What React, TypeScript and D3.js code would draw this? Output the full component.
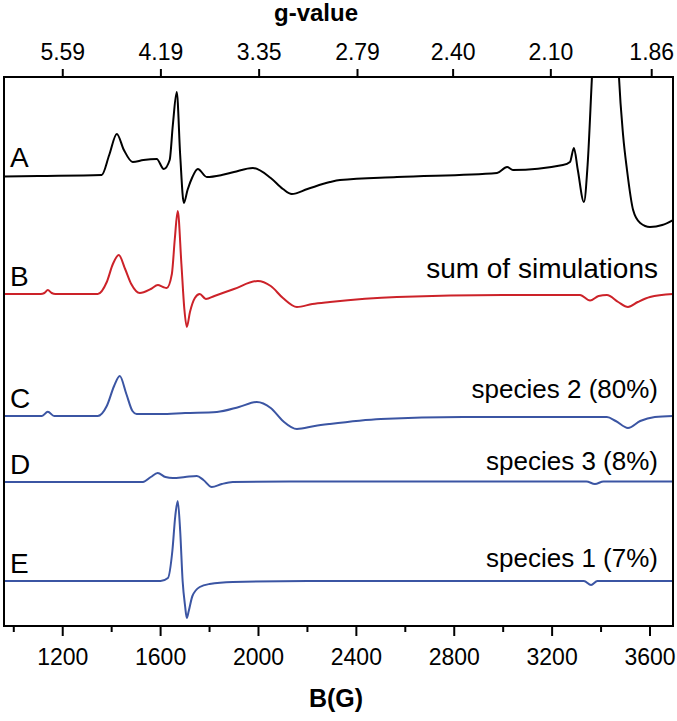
import { scaleLinear, line, curveMonotoneX } from 'd3';

// field axis ticks (G)
const fieldTicks = [1200, 1600, 2000, 2400, 2800, 3200, 3600];
const minorTicks = [1000, 1400, 1800, 2200, 2600, 3000, 3400];
// g-value ticks on top, B = hv/(muB g)
const gTicks = [5.59, 4.19, 3.35, 2.79, 2.4, 2.1, 1.86];
const hvOverMuB = 6709; // G, ~9.39 GHz

// spectra: [field (G), intensity (a.u.)]
const traceA = [
  [960, -1.5], [1100, -1], [1359, 0], [1390, 20], [1421, 41], [1450, 25], [1486, 13],
  [1530, 15], [1584, 16], [1613, 6], [1637, 15], [1650, 50], [1666, 83], [1680, 20],
  [1695, -28], [1710, -15], [1730, -2], [1752, 6], [1789, -2], [1850, 0], [1900, 3],
  [1977, 7], [2050, -3], [2100, -14], [2136, -19], [2200, -14], [2292, -7], [2333, -5],
  [2566, -2], [2975, 2], [3016, 8], [3040, 5], [3244, 10], [3273, 13], [3289, 27],
  [3305, 5], [3330, -27], [3345, 10], [3363, 99], [3380, 180], [3420, 250], [3460, 180],
  [3473, 99], [3490, 40], [3506, 5], [3531, -35], [3560, -48], [3600, -52], [3650, -50],
  [3694, -45],
];
const traceB = [
  [960, 0], [1110, 0], [1125, 1], [1139, 4], [1155, 1], [1170, 0], [1343, 0], [1380, 12],
  [1405, 30], [1429, 39], [1455, 25], [1480, 10], [1515, 1], [1560, 5], [1589, 9],
  [1610, 7], [1625, 6], [1646, 20], [1658, 55], [1670, 83], [1685, 30], [1697, -15],
  [1707, -33], [1720, -18], [1740, -4], [1760, 0], [1785, -5], [1820, -2], [1900, 5],
  [1997, 13], [2050, 8], [2100, -4], [2157, -13], [2220, -10], [2292, -8], [2566, -3],
  [3000, -1], [3314, -1], [3355, -6.6], [3390, -2], [3424, -1], [3470, -8], [3510, -13],
  [3550, -8], [3600, -3], [3694, 0],
];
const traceC = [
  [960, 0], [1115, 0], [1139, 4.3], [1165, 0], [1343, 0], [1380, 10], [1410, 30],
  [1433, 40], [1460, 22], [1485, 5], [1502, 2], [1600, 2], [1700, 3], [1830, 4],
  [1920, 9], [1993, 14], [2050, 8], [2100, -5], [2157, -13], [2230, -10], [2292, -8],
  [2500, -3], [2835, -1], [3424, -1], [3460, -5], [3510, -12], [3560, -5], [3620, -1],
  [3694, 0],
];
const traceD = [
  [960, 0], [1528, 0], [1560, 5], [1588, 9], [1620, 5], [1650, 4], [1700, 5], [1748, 6],
  [1775, 2], [1809, -5], [1850, -2], [1895, 0], [2200, 0.5], [3340, 0.5], [3375, -2],
  [3410, 0.5], [3694, 0.5],
];
const traceE = [
  [960, 0], [1600, 0], [1630, 3], [1648, 30], [1660, 65], [1670, 80], [1680, 50],
  [1690, 0], [1700, -25], [1707, -37], [1715, -30], [1730, -15], [1760, -6], [1800, -3],
  [1895, -1], [2200, 0], [3330, 0], [3359, -4], [3385, 0], [3694, 0],
];

const letters = ['A', 'B', 'C', 'D', 'E'];
const notes = ['', 'sum of simulations', 'species 2 (80%)', 'species 3 (8%)', 'species 1 (7%)'];
const offsets = [451, 332, 210, 144, 45];
const colors = ['#000000', '#cc2229', '#3b55a3', '#3b55a3', '#3b55a3'];
const traces = [traceA, traceB, traceC, traceD, traceE];

export default function App() {
  const width = 677;
  const height = 721;
  const left = 4, right = 673, top = 77, bottom = 626;
  const font = 'Liberation Sans, Arial, sans-serif';
  const noteGap = [0, 16, 18, 12, 14];

  const x = scaleLinear().domain([960, 3694]).range([left, right]);
  const y = scaleLinear().domain([0, bottom - top]).range([bottom, top]);

  return (
    <svg width={width} height={height} style={{ position: 'absolute', left: 0, top: 0, background: '#fff' }}>
      <defs>
        <clipPath id="plot">
          <rect x={left} y={top} width={right - left} height={bottom - top} />
        </clipPath>
      </defs>
      <rect width={width} height={height} fill="#fff" />

      <g clipPath="url(#plot)">
        {traces.map((t, i) => {
          const path = line<number[]>()
            .x((d) => x(d[0]))
            .y((d) => y(d[1] + offsets[i]))
            .curve(curveMonotoneX);
          return <path key={i} d={path(t) || ''} fill="none" stroke={colors[i]} strokeWidth={2} strokeLinejoin="round" />;
        })}
      </g>

      {letters.map((l, i) => (
        <text key={l} x={10} y={y(offsets[i]) - 8} fontFamily={font} fontSize={28} fill="#000">
          {l}
        </text>
      ))}
      {notes.map((n, i) =>
        n ? (
          <text key={n} x={658} y={y(offsets[i]) - noteGap[i]} textAnchor="end" fontFamily={font} fontSize={i === 1 ? 28 : 26} fill="#000">
            {n}
          </text>
        ) : null
      )}

      <rect x={left} y={top} width={right - left} height={bottom - top} fill="none" stroke="#000" strokeWidth={2} />

      {/* bottom axis */}
      {fieldTicks.map((t) => (
        <g key={t} transform={`translate(${x(t)},${bottom})`}>
          <line y2={10} stroke="#000" strokeWidth={2} />
          <text y={39} textAnchor="middle" fontFamily={font} fontSize={23}>{t}</text>
        </g>
      ))}
      {minorTicks.map((t) => (
        <line key={t} x1={x(t)} x2={x(t)} y1={bottom} y2={bottom + 6} stroke="#000" strokeWidth={2} />
      ))}
      <text x={336} y={707} textAnchor="middle" fontFamily={font} fontSize={25} fontWeight="bold">
        B(G)
      </text>

      {/* top axis */}
      {gTicks.map((g) => (
        <g key={g} transform={`translate(${x(hvOverMuB / g)},${top})`}>
          <line y2={-8} stroke="#000" strokeWidth={2} />
          <text y={-17} textAnchor="middle" fontFamily={font} fontSize={23}>{g.toFixed(2)}</text>
        </g>
      ))}
      <text x={316} y={21} textAnchor="middle" fontFamily={font} fontSize={24} fontWeight="bold">
        g-value
      </text>
    </svg>
  );
}
